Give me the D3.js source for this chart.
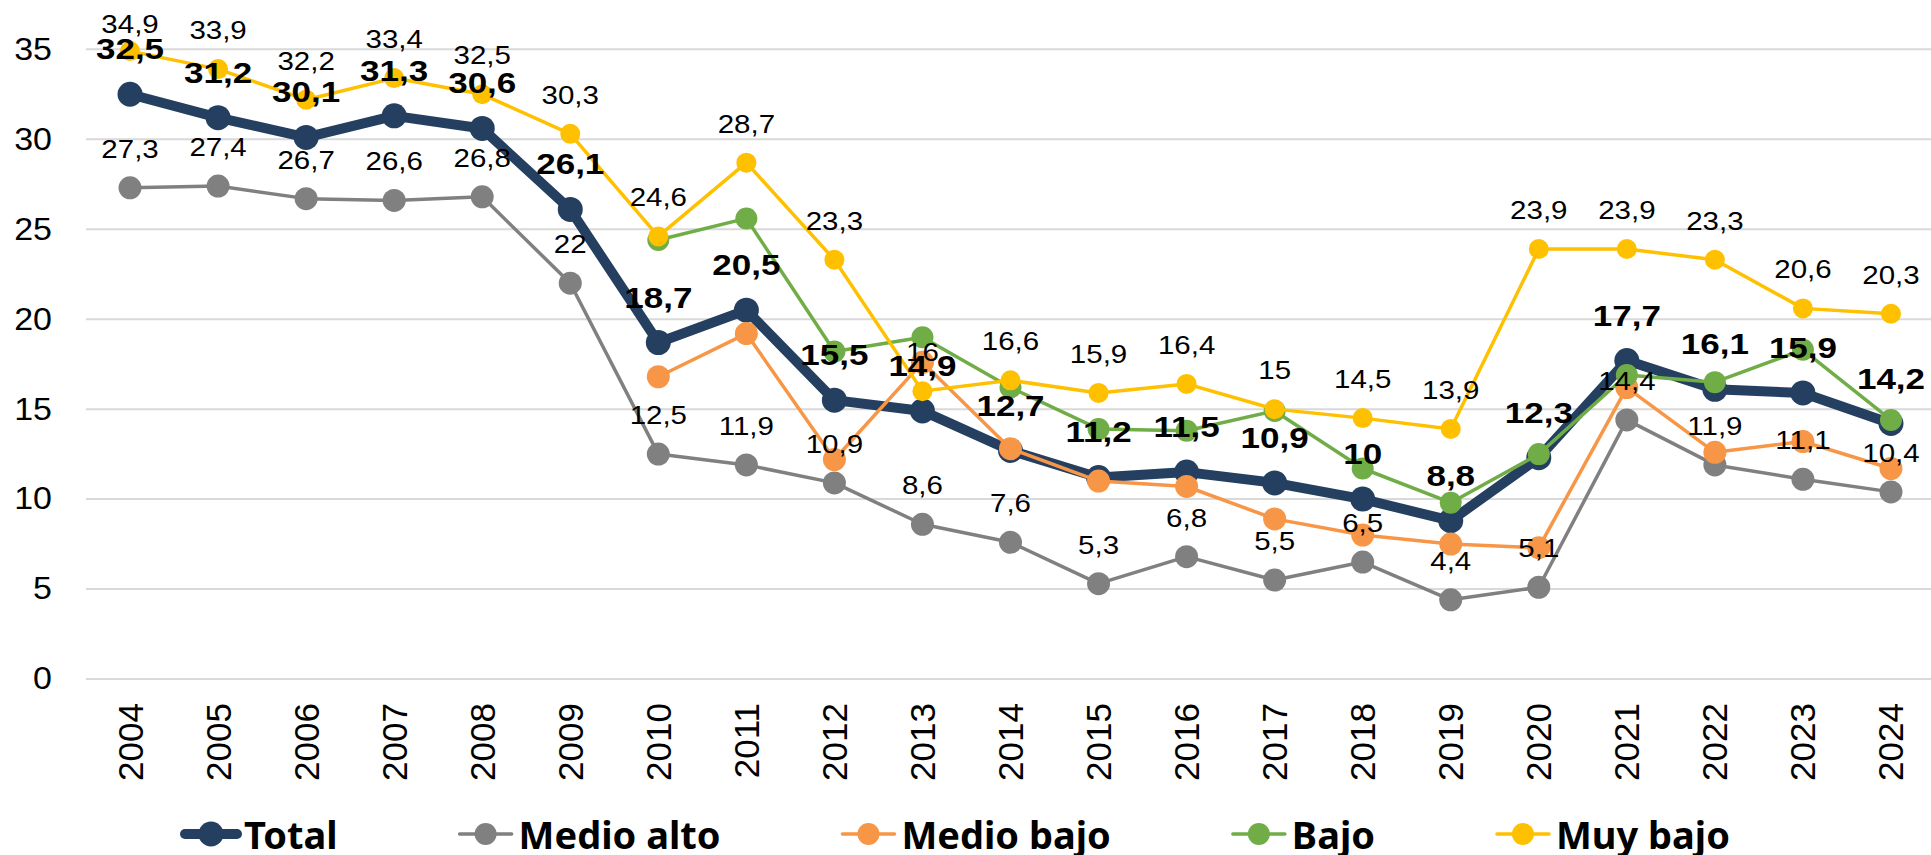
<!DOCTYPE html>
<html><head><meta charset="utf-8">
<script src="https://cdn.jsdelivr.net/npm/d3@7"></script>
<style>body{margin:0;background:#fff}svg{display:block}</style>
</head><body>
<svg id="chart" width="1931" height="855"></svg>
<script>
const years = ["2004","2005","2006","2007","2008","2009","2010","2011","2012","2013","2014","2015","2016","2017","2018","2019","2020","2021","2022","2023","2024"];
const total     = [32.5,31.2,30.1,31.3,30.6,26.1,18.7,20.5,15.5,14.9,12.7,11.2,11.5,10.9,10,8.8,12.3,17.7,16.1,15.9,14.2];
const medioAlto = [27.3,27.4,26.7,26.6,26.8,22,12.5,11.9,10.9,8.6,7.6,5.3,6.8,5.5,6.5,4.4,5.1,14.4,11.9,11.1,10.4];
const medioBajo = [null,null,null,null,null,null,16.8,19.2,12.2,17.6,12.8,11.0,10.7,8.9,8.0,7.5,7.3,16.2,12.6,13.2,11.7];
const bajo      = [null,null,null,null,null,null,24.4,25.6,18.2,19.0,16.2,13.9,13.8,14.9,11.7,9.8,12.5,16.9,16.5,18.3,14.4];
const muyBajo   = [34.9,33.9,32.2,33.4,32.5,30.3,24.6,28.7,23.3,16,16.6,15.9,16.4,15,14.5,13.9,23.9,23.9,23.3,20.6,20.3];
const yTicks = [0,5,10,15,20,25,30,35];

const series = [
  {name:"Total", values:total, color:"#243F60", width:10, r:12.5, label:"bold"},
  {name:"Medio alto", values:medioAlto, color:"#808080", width:3.5, r:11.5, label:"regular"},
  {name:"Medio bajo", values:medioBajo, color:"#F79646", width:3.5, r:11.5, label:null},
  {name:"Bajo", values:bajo, color:"#70AD47", width:3.5, r:11, label:null},
  {name:"Muy bajo", values:muyBajo, color:"#FFC000", width:3.5, r:10, label:"regular"}
];

const svg = d3.select("#chart");
const x = d3.scaleBand().domain(years).range([86, 1935]);
const cx = d => x(d) + x.bandwidth()/2;
const y = d3.scaleLinear().domain([0,35]).range([679, 49.3]);
const fmt = v => String(v).replace(".", ",");

// gridlines
svg.append("g").selectAll("line").data(yTicks).join("line")
  .attr("x1", 86).attr("x2", 1931)
  .attr("y1", d => y(d)).attr("y2", d => y(d))
  .attr("stroke", "#d9d9d9").attr("stroke-width", 2);

// y labels
svg.append("g").selectAll("text").data(yTicks).join("text")
  .attr("transform", d => `translate(52,${y(d)}) scale(1,0.9)`)
  .attr("text-anchor","end").attr("dominant-baseline","central")
  .attr("font-family","'Liberation Sans', Arial, sans-serif")
  .attr("font-size", 34).attr("fill","#000").text(d => d);

// x labels
svg.append("g").selectAll("text").data(years).join("text")
  .attr("transform", d => `translate(${cx(d)},703) rotate(-90)`)
  .attr("text-anchor","end").attr("dominant-baseline","central")
  .attr("font-family","'Liberation Sans', Arial, sans-serif")
  .attr("font-size", 35).attr("fill","#000").text(d => d);

// lines & markers
series.forEach(s => {
  const pts = years.map((yr,i) => ({yr, v:s.values[i]}));
  const line = d3.line().defined(d => d.v != null).x(d => cx(d.yr)).y(d => y(d.v));
  svg.append("path").datum(pts).attr("d", line)
    .attr("fill","none").attr("stroke", s.color).attr("stroke-width", s.width)
    .attr("stroke-linejoin","round");
  svg.append("g").selectAll("circle").data(pts.filter(d => d.v != null)).join("circle")
    .attr("cx", d => cx(d.yr)).attr("cy", d => y(d.v)).attr("r", s.r)
    .attr("fill", s.color);
});

// data labels
const labelOrder = [series[1], series[4], series[0]];
labelOrder.forEach(s => {
  const bold = s.label === "bold";
  const pts = years.map((yr,i) => ({yr, v:s.values[i]}));
  svg.append("g").selectAll("text").data(pts.filter(d => d.v != null)).join("text")
    .attr("transform", d => {
      const by = Math.max(y(d.v) - (bold ? 35 : 30), 33);
      return `translate(${cx(d.yr)},${by}) scale(1,${bold ? 0.84 : 0.88})`;
    })
    .attr("text-anchor","middle")
    .attr("font-family","'Liberation Sans', Arial, sans-serif")
    .attr("font-weight", bold ? "bold" : "normal")
    .attr("font-size", bold ? 35 : 29.5).attr("fill","#000")
    .text(d => fmt(d.v));
});

// legend
const lg = svg.append("g");
let lx = 185;
const ly = 834;
series.forEach(s => {
  const g = lg.append("g");
  g.append("line").attr("x1", lx).attr("x2", lx+52).attr("y1", ly).attr("y2", ly)
    .attr("stroke", s.color).attr("stroke-width", s.width).attr("stroke-linecap","round");
  g.append("circle").attr("cx", lx+26).attr("cy", ly).attr("r", s.name==="Total" ? 12.5 : 11).attr("fill", s.color);
  const t = g.append("text").attr("x", lx+59).attr("y", ly).attr("dominant-baseline","central")
    .attr("font-family","'Noto Sans', sans-serif").attr("font-weight","bold")
    .attr("font-size", 38).attr("fill","#000").text(s.name);
  lx += 52 + 7 + t.node().getComputedTextLength() + 122;
});
</script>
</body></html>
